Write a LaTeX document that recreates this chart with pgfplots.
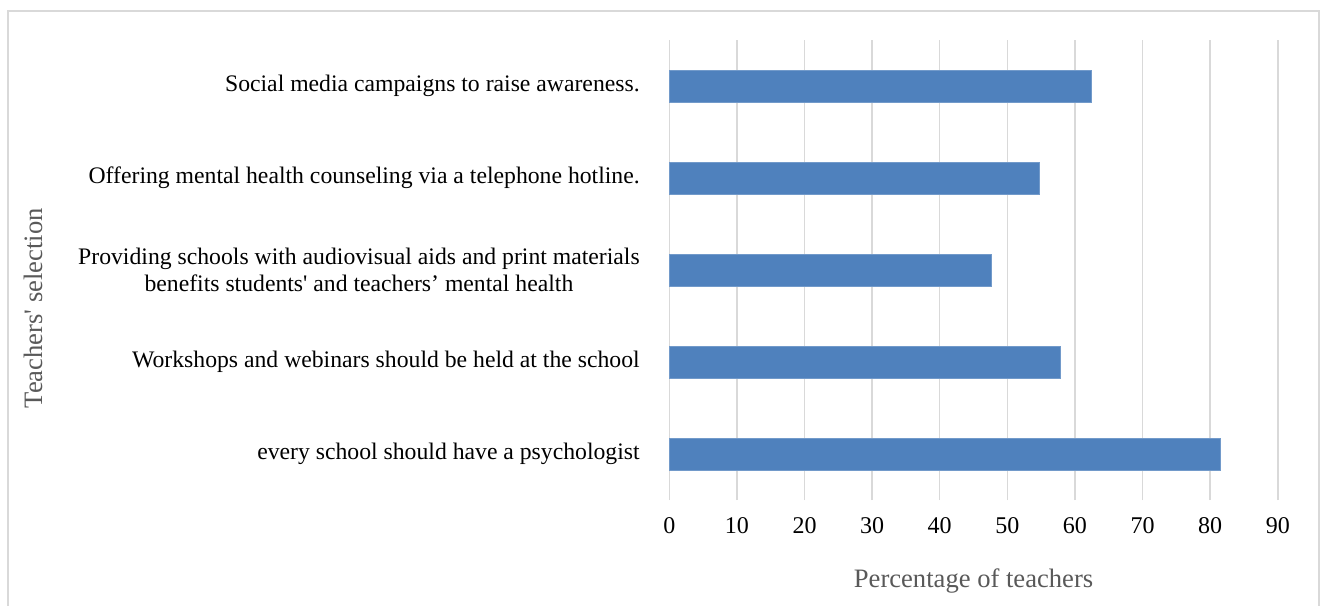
\documentclass[border=0pt]{standalone}
\usepackage{pgfplots}
\pgfplotsset{compat=1.18}
\usepackage{fontspec}
\setmainfont{Liberation Serif}
\definecolor{barblue}{HTML}{4F81BD}
\definecolor{gridgray}{HTML}{D9D9D9}
\definecolor{titlegray}{HTML}{595959}
\definecolor{framegray}{HTML}{D9D9D9}
\begin{document}
\begin{tikzpicture}
\useasboundingbox (0pt,0pt) rectangle (660pt,302.5pt);
\draw[framegray, line width=0.75pt] (4pt,-5pt) -- (4pt,297pt) -- (659.5pt,297pt) -- (659.5pt,-5pt);
\begin{axis}[
  at={(334.65pt,52.5pt)}, anchor=south west,
  scale only axis, width=304.25pt, height=230pt,
  xbar, bar width=16pt,
  xmin=0, xmax=90, xtick={0,10,...,90},
  ymin=-0.5, ymax=4.5, ytick={0,1,2,3,4},
  yticklabels={every school should have a psychologist,
    Workshops and webinars should be held at the school,
    {Providing schools with audiovisual aids and print materials\\benefits students\textquotesingle{} and teachers’ mental health},
    Offering mental health counseling via a telephone hotline.,
    Social media campaigns to raise awareness.},
  yticklabel style={align=center, font=\fontsize{11.85}{13.8}\selectfont, xshift=-7pt},
  xticklabel style={font=\fontsize{12}{14}\selectfont, yshift=-5pt},
  /pgf/number format/assume math mode=true,
  axis line style={draw=none},
  major tick style={draw=none},
  xmajorgrids, major grid style={gridgray, line width=0.75pt},
  xlabel={Percentage of teachers},
  ylabel={Teachers\textquotesingle{} selection},
  xlabel style={at={(axis description cs:0.5,-0.176)}, anchor=center, text=titlegray, font=\fontsize{13.3}{15}\selectfont},
  ylabel style={at={(axis description cs:-1.0457,0.417)}, anchor=center, text=titlegray, font=\fontsize{13.3}{15}\selectfont},
  clip=false,
]
\addplot[fill=barblue, draw=barblue!80!white] coordinates {
  (81.5,0) (57.9,1) (47.6,2) (54.8,3) (62.4,4)
};
\end{axis}
\end{tikzpicture}
\end{document}
